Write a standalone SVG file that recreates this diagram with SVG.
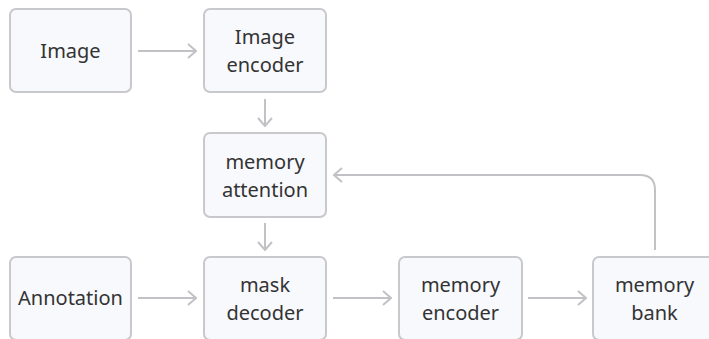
<svg xmlns="http://www.w3.org/2000/svg" width="709" height="339" viewBox="0 0 709 339">
<defs>
<style>
.box{fill:#f8f9fd;stroke:#c9c9cd;stroke-width:2}
.lbl{font-family:"Noto Sans","Open Sans",sans-serif;font-size:20px;fill:#333;text-anchor:middle}
.edge{fill:none;stroke:#c2c2c6;stroke-width:2;marker-end:url(#arr)}
</style>
<marker id="arr" viewBox="0 0 10 16" refX="9" refY="8" markerWidth="10" markerHeight="16" markerUnits="userSpaceOnUse" orient="auto">
<path d="M1,1 L9,8 L1,15" fill="none" stroke="#c2c2c6" stroke-width="2"/>
</marker>
</defs>
<rect width="709" height="339" fill="#ffffff"/>
<g id="connectors">
<path class="edge" d="M138,51 H196"/>
<path class="edge" d="M265,99 V126"/>
<path class="edge" d="M265,223 V250"/>
<path class="edge" d="M138,298 H196"/>
<path class="edge" d="M333,298 H391"/>
<path class="edge" d="M528,298 H586"/>
<path class="edge" d="M655,250 V190 Q655,175 640,175 H334"/>
</g>
<g id="image"><rect class="box" x="10" y="9" width="121" height="83" rx="6"/><text class="lbl" x="70.5" y="58">Image</text></g>
<g id="image-encoder"><rect class="box" x="204" y="9" width="122" height="83" rx="6"/><text class="lbl" x="265" y="44">Image</text><text class="lbl" x="265" y="72">encoder</text></g>
<g id="memory-attention"><rect class="box" x="204" y="133" width="122" height="84" rx="6"/><text class="lbl" x="265" y="169">memory</text><text class="lbl" x="265" y="197">attention</text></g>
<g id="annotation"><rect class="box" x="10" y="257" width="121" height="83" rx="6"/><text class="lbl" x="70.5" y="305">Annotation</text></g>
<g id="mask-decoder"><rect class="box" x="204" y="257" width="122" height="83" rx="6"/><text class="lbl" x="265" y="292">mask</text><text class="lbl" x="265" y="320">decoder</text></g>
<g id="memory-encoder"><rect class="box" x="399" y="257" width="123" height="83" rx="6"/><text class="lbl" x="460.5" y="292">memory</text><text class="lbl" x="460.5" y="320">encoder</text></g>
<g id="memory-bank"><rect class="box" x="593" y="257" width="123" height="83" rx="6"/><text class="lbl" x="654.5" y="292">memory</text><text class="lbl" x="654.5" y="320">bank</text></g>
</svg>
